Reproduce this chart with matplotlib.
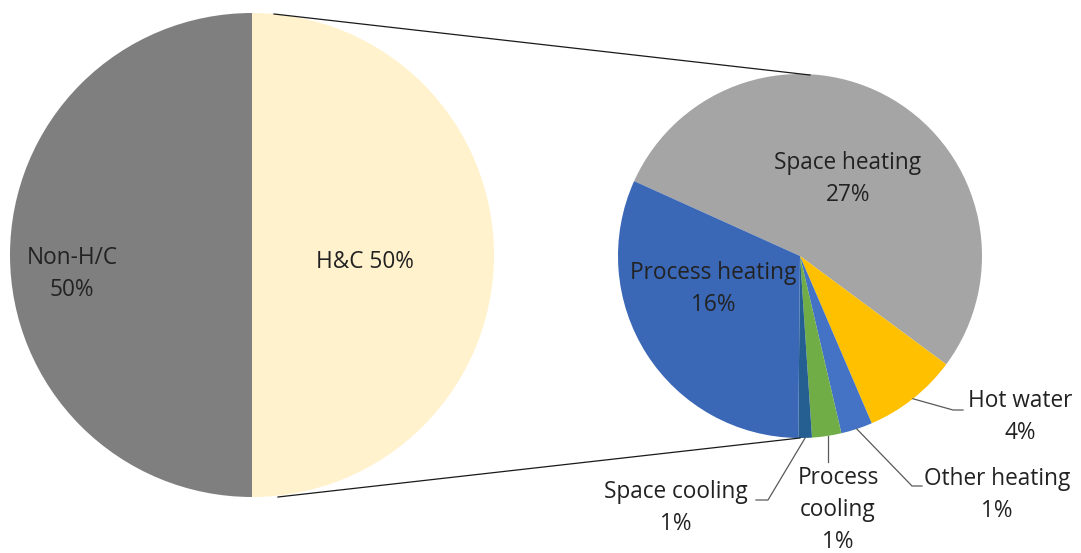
import numpy as np
import matplotlib.pyplot as plt

# main split
MAIN_LABELS = ["Non-H/C\n50%", "H&C 50%"]
MAIN_VALUES = [50, 50]
MAIN_COLORS = ["#7f7f7f", "#fff2cc"]

# breakdown of H&C (share of total, %)
SUB_NAMES = ["Space heating", "Hot water", "Other heating",
             "Process cooling", "Space cooling", "Process heating"]
SUB_VALUES = [26.7, 4.2, 1.4, 1.3, 0.6, 15.8]
SUB_LABELS = ["Space heating\n27%", "Hot water\n4%", "Other heating\n1%",
              "Process\ncooling\n1%", "Space cooling\n1%", "Process heating\n16%"]
SUB_COLORS = ["#a5a5a5", "#ffc000", "#4472c4", "#70ad47", "#255e91", "#3a67b6"]

W, H = 1081, 553
TXT = "#222222"
FONT = "Open Sans"
FS = 16.3
LS = 1.45

fig = plt.figure(figsize=(W / 100, H / 100), dpi=100)
ax = fig.add_axes([0, 0, 1, 1])

# pixel-like coordinates, y pointing up
c1, r1 = (252, H - 255), 242
c2, r2 = (800, H - 256), 182

ax.pie(MAIN_VALUES, colors=MAIN_COLORS, startangle=90, counterclock=True,
       center=c1, radius=r1, frame=True)
wedges, _ = ax.pie(SUB_VALUES, colors=SUB_COLORS, startangle=155.7,
                   counterclock=False, center=c2, radius=r2, frame=True)

ax.set_xlim(0, W)
ax.set_ylim(0, H)
ax.set_aspect("equal")
ax.axis("off")

# connector lines between the two pies
ax.plot([c1[0] + 22, c2[0] + 10], [c1[1] + r1 - 1, c2[1] + r2 - 1],
        color="#1a1a1a", lw=0.9)
ax.plot([c1[0] + 26, c2[0]], [c1[1] - r1, c2[1] - r2],
        color="#1a1a1a", lw=0.9)

# main labels
ax.text(72, H - 274, MAIN_LABELS[0], ha="center", va="center", fontsize=FS,
        family=FONT, color=TXT, linespacing=LS)
ax.text(365, H - 262, MAIN_LABELS[1], ha="center", va="center", fontsize=FS,
        family=FONT, color=TXT)


def edge_point(w, frac=1.0):
    ang = np.deg2rad((w.theta1 + w.theta2) / 2)
    return c2[0] + r2 * frac * np.cos(ang), c2[1] + r2 * frac * np.sin(ang)


# inside labels
ax.text(848, H - 179, SUB_LABELS[0], ha="center", va="center", fontsize=FS,
        family=FONT, color=TXT, linespacing=LS)
ax.text(713, H - 289, SUB_LABELS[5], ha="center", va="center", fontsize=FS,
        family=FONT, color=TXT, linespacing=LS)

# outside labels with leader lines: (index, label center, elbow, line end)
outside = [
    (1, (1020, H - 417), (953, H - 410), (963, H - 410)),
    (2, (997, H - 495), (912, H - 486), (922, H - 486)),
    (3, (838, H - 510), (828, H - 462), (828, H - 462)),
    (4, (676, H - 508), (768, H - 500), (756, H - 500)),
]
for i, pos, elbow, end in outside:
    x0, y0 = edge_point(wedges[i])
    if i == 3:
        x0 = elbow[0]
    ax.plot([x0, elbow[0], end[0]], [y0, elbow[1], end[1]],
            color="#595959", lw=0.9)
    ax.text(pos[0], pos[1], SUB_LABELS[i], ha="center", va="center",
            fontsize=FS, family=FONT, color=TXT, linespacing=LS)

fig.savefig("out.png", dpi=100)
